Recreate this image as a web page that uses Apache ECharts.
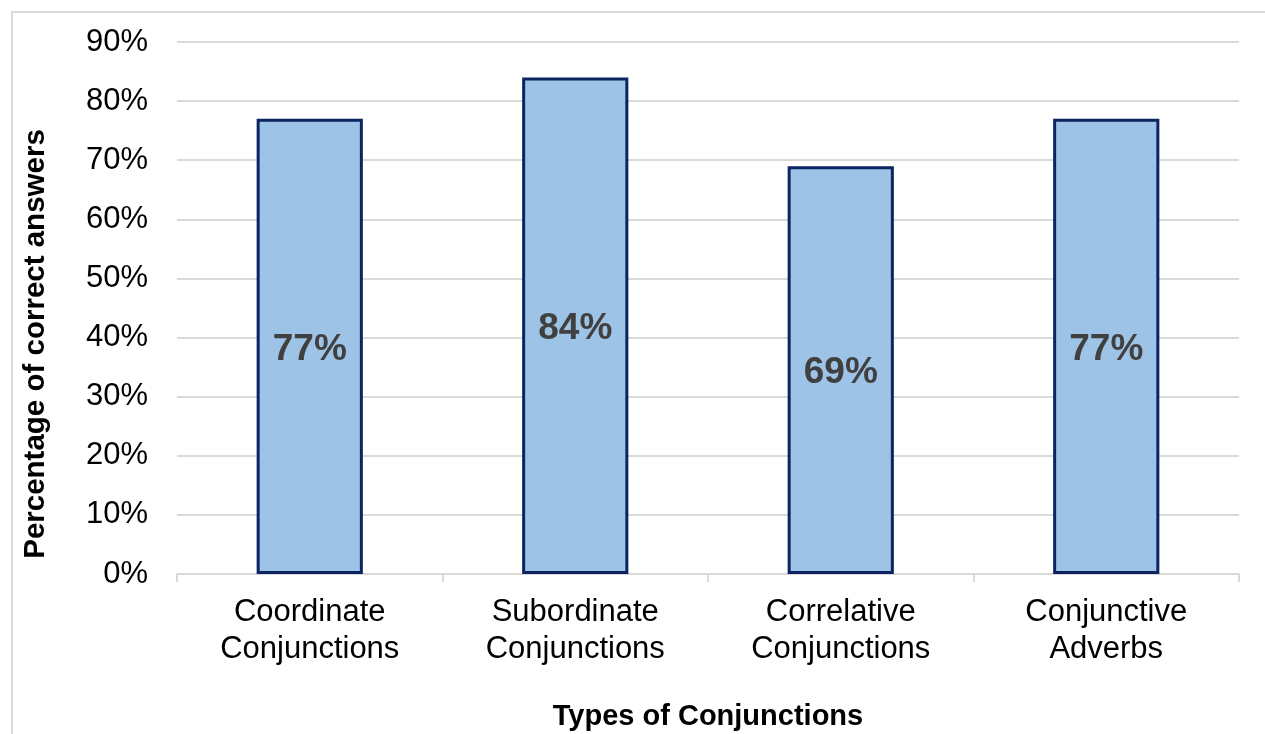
<!DOCTYPE html>
<html>
<head>
<meta charset="utf-8">
<script src="https://cdn.jsdelivr.net/npm/echarts@6/dist/echarts.min.js"></script>
<style>
  html, body { margin: 0; padding: 0; background: #ffffff; }
  #frame { position: absolute; left: 11px; top: 11px; width: 1270px; height: 740px; border: 2px solid #d9d9d9; box-sizing: border-box; }
  #chart { position: absolute; left: 0; top: 0; width: 1265px; height: 734px; }
</style>
</head>
<body>
<div id="frame"></div>
<div id="chart"></div>
<script>
// Share of correct answers by conjunction type
const categories = ['Coordinate\nConjunctions', 'Subordinate\nConjunctions', 'Correlative\nConjunctions', 'Conjunctive\nAdverbs'];
const correctPct = [77, 84, 69, 77];
const yTicks = [0, 10, 20, 30, 40, 50, 60, 70, 80, 90];

const chart = echarts.init(document.getElementById('chart'));
chart.setOption({
  backgroundColor: 'transparent',
  animation: false,
  textStyle: { fontFamily: 'Liberation Sans, Arial, sans-serif' },
  grid: { left: 177, right: 26, top: 42, bottom: 160, containLabel: false, outerBoundsMode: 'none' },
  xAxis: {
    type: 'category',
    data: categories,
    name: 'Types of Conjunctions',
    nameLocation: 'middle',
    nameGap: 128,
    nameTextStyle: { fontSize: 29, fontWeight: 'bold', color: '#000000' },
    axisLine: { lineStyle: { color: '#d9d9d9', width: 2 } },
    axisTick: { show: true, length: 8, alignWithLabel: false, lineStyle: { color: '#d9d9d9', width: 2 } },
    axisLabel: { fontSize: 31, color: '#000000', lineHeight: 37, margin: 20 }
  },
  yAxis: {
    type: 'value',
    min: yTicks[0],
    max: yTicks[yTicks.length - 1],
    interval: 10,
    name: 'Percentage of correct answers',
    nameLocation: 'middle',
    nameGap: 126,
    nameTextStyle: { fontSize: 29.5, fontWeight: 'bold', color: '#000000', padding: [0, 72, 0, 0] },
    axisLine: { show: false },
    axisTick: { show: false },
    axisLabel: { fontSize: 31, color: '#000000', margin: 29, padding: [4, 0, 0, 0], formatter: v => v + '%' },
    splitLine: { lineStyle: { color: '#d9d9d9', width: 2 } }
  },
  series: [{
    type: 'bar',
    data: correctPct,
    barWidth: '40%',
    itemStyle: { color: '#9dc3e6', borderColor: '#0c2461', borderWidth: 3 },
    label: {
      show: true,
      position: 'inside',
      offset: [0, 3],
      formatter: p => p.value + '%',
      fontSize: 37,
      fontWeight: 'bold',
      color: '#404040'
    }
  }]
});
</script>
</body>
</html>
